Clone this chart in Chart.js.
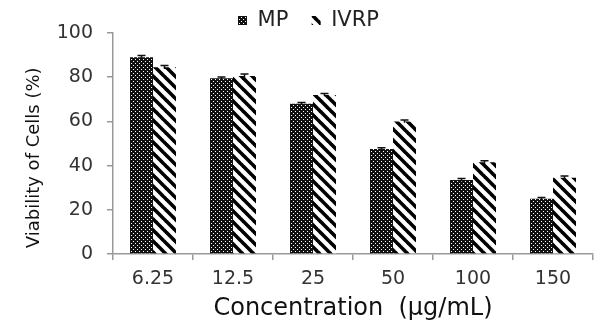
<!DOCTYPE html>
<html>
<head>
<meta charset="utf-8">
<script src="https://cdn.jsdelivr.net/npm/chart.js@4"></script>
<style>
  html, body { margin: 0; padding: 0; background: #fff; }
  #wrap { width: 598px; height: 326px; }
</style>
</head>
<body>
<div id="wrap"><canvas id="chart" width="598" height="326"></canvas></div>
<script>
/* datos */
const CONCENTRACIONES = ["6.25", "12.5", "25", "50", "100", "150"];
const VALORES_MP = [89, 79.5, 68, 47.5, 33.5, 25];
const VALORES_IVRP = [84.5, 80.5, 72, 60, 41.5, 34.5];
const ERR_MP = [0.8, 0.6, 0.6, 0.6, 0.7, 0.6];
const ERR_IVRP = [0.8, 0.9, 0.6, 0.6, 0.7, 0.8];
const TICKS_Y = [0, 20, 40, 60, 80, 100];

const FUENTE = "DejaVu Sans";

/* patron de puntos (MP) */
function patronPuntos() {
    const c = document.createElement("canvas");
    c.width = 4; c.height = 4;
    const g = c.getContext("2d");
    g.fillStyle = "#111";
    g.fillRect(0, 0, 4, 4);
    g.fillStyle = "#fff";
    g.fillRect(1, 1, 1, 1);
    g.fillRect(3, 3, 1, 1);
    return g.createPattern(c, "repeat");
}

/* patron de rayas diagonales (IVRP) */
function patronRayas() {
    const s = 11;
    const c = document.createElement("canvas");
    c.width = s; c.height = s;
    const g = c.getContext("2d");
    g.fillStyle = "#fff";
    g.fillRect(0, 0, s, s);
    g.strokeStyle = "#000";
    g.lineWidth = 3.6;
    for (const o of [-s, 0, s]) {
        g.beginPath();
        g.moveTo(o - 1, -1);
        g.lineTo(o + s + 1, s + 1);
        g.stroke();
    }
    return g.createPattern(c, "repeat");
}

const barrasError = {
    id: "barrasError",
    afterDatasetsDraw(chart) {
        const ctx = chart.ctx;
        const y = chart.scales.y;
        const errs = [ERR_MP, ERR_IVRP];
        ctx.save();
        ctx.strokeStyle = "#111";
        ctx.lineWidth = 1.5;
        chart.data.datasets.forEach((ds, i) => {
            const meta = chart.getDatasetMeta(i);
            meta.data.forEach((bar, j) => {
                const v = ds.data[j];
                const yt = y.getPixelForValue(v + errs[i][j]);
                const yb = y.getPixelForValue(v - errs[i][j]);
                ctx.beginPath();
                ctx.moveTo(bar.x, yt); ctx.lineTo(bar.x, yb);
                ctx.moveTo(bar.x - 4, yt); ctx.lineTo(bar.x + 4, yt);
                ctx.stroke();
            });
        });
        ctx.restore();
    }
};

/* altura fija de la leyenda (v4 no tiene afterFit en la leyenda) */
const alturaLeyenda = {
    id: "alturaLeyenda",
    afterInit(chart) {
        const leg = chart.legend;
        if (!leg) return;
        const fitOrig = leg.fit.bind(leg);
        leg.fit = function () {
            fitOrig();
            this.height = 33;
        };
    }
};

new Chart(document.getElementById("chart"), {
    type: "bar",
    data: {
        labels: CONCENTRACIONES,
        datasets: [
            { label: "MP  ", data: VALORES_MP, backgroundColor: patronPuntos(), borderWidth: 0 },
            { label: "IVRP", data: VALORES_IVRP, backgroundColor: patronRayas(), borderWidth: 0 }
        ]
    },
    options: {
        responsive: false,
        animation: false,
        devicePixelRatio: 1,
        categoryPercentage: 0.575,
        barPercentage: 1.0,
        layout: { padding: { left: 24, right: 5, top: 0, bottom: 0 } },
        plugins: {
            legend: {
                position: "top",
                labels: {
                    boxWidth: 9,
                    boxHeight: 9,
                    padding: 10,
                    color: "#222",
                    font: { family: FUENTE, size: 21 }
                }
            },
            tooltip: { enabled: false }
        },
        scales: {
            x: {
                grid: { display: true, drawOnChartArea: false, tickLength: 6, color: "#999", lineWidth: 1.5 },
                border: { color: "#999", width: 1.5 },
                ticks: { color: "#333", font: { family: FUENTE, size: 19 }, padding: 8 },
                title: {
                    display: true,
                    text: "Concentration  (µg/mL)",
                    color: "#111",
                    font: { family: FUENTE, size: 24 },
                    padding: { top: 2, bottom: 3 }
                },
                afterFit(scale) { scale.height = 72; }
            },
            y: {
                min: 0,
                max: 100,
                afterBuildTicks(scale) { scale.ticks = TICKS_Y.map(v => ({ value: v })); },
                grid: { drawOnChartArea: false, tickLength: 6, color: "#999", lineWidth: 1.5 },
                border: { color: "#999", width: 1.5 },
                ticks: { color: "#333", font: { family: FUENTE, size: 19 }, padding: 14 },
                title: {
                    display: true,
                    text: "Viability of Cells (%)     ",
                    color: "#111",
                    font: { family: FUENTE, size: 18 },
                    padding: { top: 0, bottom: 4 }
                },
                afterFit(scale) { scale.width = 89; }
            }
        }
    },
    plugins: [barrasError, alturaLeyenda]
});
</script>
</body>
</html>
